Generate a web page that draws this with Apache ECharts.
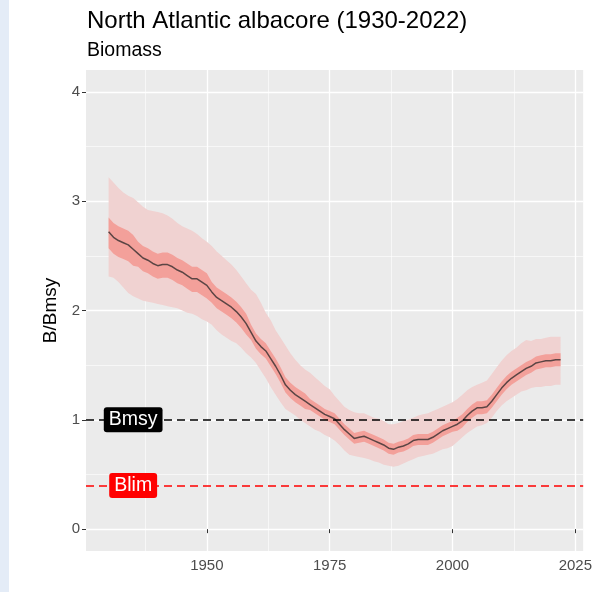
<!DOCTYPE html>
<html>
<head>
<meta charset="utf-8">
<script src="https://cdn.jsdelivr.net/npm/echarts@6/dist/echarts.min.js"></script>
<style>
  html, body { margin: 0; padding: 0; background: #ffffff; }
  #chart { width: 595px; height: 592px; }
</style>
</head>
<body>
<div id="chart"></div>
<script>
// Stock status of North Atlantic albacore: B/Bmsy by year
const firstYear = 1930;
const lastYear = 2022;

// median trajectory
const median = [
  2.72, 2.67, 2.64, 2.62, 2.60, 2.56, 2.52, 2.48, 2.46, 2.43,
  2.41, 2.42, 2.42, 2.40, 2.37, 2.35, 2.32, 2.29, 2.29, 2.26,
  2.23, 2.17, 2.12, 2.09, 2.06, 2.03, 1.99, 1.94, 1.88, 1.80,
  1.72, 1.67, 1.63, 1.56, 1.49, 1.41, 1.32, 1.27, 1.23, 1.20,
  1.17, 1.14, 1.11, 1.08, 1.05, 1.03, 1.01, 0.96, 0.91, 0.87,
  0.83, 0.84, 0.85, 0.83, 0.81, 0.79, 0.77, 0.74, 0.73, 0.75,
  0.76, 0.78, 0.81, 0.82, 0.82, 0.82, 0.84, 0.87, 0.90, 0.92,
  0.94, 0.96, 0.99, 1.04, 1.08, 1.11, 1.11, 1.12, 1.17, 1.23,
  1.29, 1.34, 1.38, 1.41, 1.44, 1.47, 1.49, 1.52, 1.53, 1.54,
  1.54, 1.55, 1.55
];

// inner interval
const innerHi = [
  2.85, 2.80, 2.77, 2.75, 2.73, 2.69, 2.63, 2.59, 2.57, 2.54,
  2.52, 2.53, 2.53, 2.51, 2.48, 2.46, 2.43, 2.40, 2.40, 2.37,
  2.34, 2.26, 2.21, 2.18, 2.15, 2.12, 2.08, 2.03, 1.97, 1.87,
  1.79, 1.74, 1.70, 1.63, 1.56, 1.48, 1.39, 1.34, 1.30, 1.27,
  1.24, 1.19, 1.16, 1.13, 1.10, 1.08, 1.06, 1.01, 0.96, 0.92,
  0.88, 0.89, 0.90, 0.88, 0.86, 0.84, 0.82, 0.79, 0.78, 0.80,
  0.81, 0.83, 0.86, 0.87, 0.87, 0.87, 0.89, 0.92, 0.95, 0.97,
  0.99, 1.02, 1.05, 1.10, 1.14, 1.17, 1.17, 1.18, 1.23, 1.29,
  1.35, 1.40, 1.44, 1.47, 1.50, 1.53, 1.55, 1.58, 1.59, 1.60,
  1.60, 1.61, 1.61
];
const innerLo = [
  2.57, 2.52, 2.49, 2.47, 2.45, 2.41, 2.40, 2.36, 2.34, 2.31,
  2.29, 2.30, 2.30, 2.28, 2.25, 2.23, 2.20, 2.17, 2.17, 2.14,
  2.11, 2.07, 2.02, 1.99, 1.96, 1.93, 1.89, 1.84, 1.78, 1.73,
  1.65, 1.60, 1.56, 1.49, 1.42, 1.34, 1.25, 1.20, 1.16, 1.13,
  1.10, 1.09, 1.06, 1.03, 1.00, 0.98, 0.96, 0.91, 0.86, 0.82,
  0.78, 0.79, 0.80, 0.78, 0.76, 0.74, 0.72, 0.69, 0.68, 0.70,
  0.71, 0.73, 0.76, 0.77, 0.77, 0.77, 0.79, 0.82, 0.85, 0.87,
  0.89, 0.90, 0.93, 0.98, 1.02, 1.05, 1.05, 1.06, 1.11, 1.17,
  1.23, 1.28, 1.32, 1.35, 1.38, 1.41, 1.43, 1.46, 1.47, 1.48,
  1.48, 1.49, 1.49
];

// outer interval
const outerHi = [
  3.22, 3.17, 3.12, 3.08, 3.05, 3.03, 2.99, 2.95, 2.92, 2.91,
  2.90, 2.89, 2.87, 2.84, 2.80, 2.77, 2.75, 2.73, 2.70, 2.66,
  2.63, 2.59, 2.54, 2.50, 2.46, 2.42, 2.37, 2.31, 2.25, 2.19,
  2.15, 2.07, 1.98, 1.91, 1.82, 1.75, 1.68, 1.61, 1.55, 1.50,
  1.46, 1.43, 1.39, 1.35, 1.31, 1.28, 1.22, 1.17, 1.12, 1.09,
  1.07, 1.06, 1.06, 1.04, 1.02, 1.01, 0.99, 0.96, 0.96, 0.97,
  0.99, 1.00, 1.02, 1.04, 1.05, 1.06, 1.08, 1.10, 1.12, 1.14,
  1.16, 1.19, 1.23, 1.27, 1.30, 1.32, 1.34, 1.36, 1.42, 1.48,
  1.54, 1.59, 1.63, 1.66, 1.70, 1.73, 1.72, 1.74, 1.74, 1.75,
  1.76, 1.76, 1.76
];
const outerLo = [
  2.31, 2.30, 2.26, 2.21, 2.16, 2.13, 2.11, 2.09, 2.08, 2.07,
  2.06, 2.05, 2.04, 2.03, 2.02, 2.00, 1.98, 1.97, 1.95, 1.92,
  1.90, 1.87, 1.82, 1.78, 1.75, 1.72, 1.70, 1.66, 1.61, 1.57,
  1.52, 1.45, 1.38, 1.30, 1.23, 1.16, 1.10, 1.07, 1.04, 1.00,
  0.97, 0.94, 0.91, 0.89, 0.86, 0.84, 0.81, 0.77, 0.72, 0.68,
  0.67, 0.66, 0.65, 0.64, 0.62, 0.61, 0.59, 0.58, 0.57, 0.58,
  0.60, 0.62, 0.64, 0.66, 0.67, 0.68, 0.69, 0.71, 0.73, 0.74,
  0.76, 0.80, 0.84, 0.88, 0.91, 0.94, 0.95, 0.97, 1.02, 1.08,
  1.13, 1.17, 1.20, 1.23, 1.26, 1.27, 1.29, 1.30, 1.30, 1.31,
  1.31, 1.32, 1.32
];

// reference points
const refNames = ['Bmsy', 'Blim'];
const refValues = [1, 0.4];
const refColors = ['#000000', '#ff0000'];
const refLabelYear = 1935;

// axis ticks
const xMajorTicks = [1950, 1975, 2000, 2025];
const xMinorTicks = [1937.5, 1962.5, 1987.5, 2012.5];
const yMajorTicks = [0, 1, 2, 3, 4];
const yMinorTicks = [0.5, 1.5, 2.5, 3.5];

const years = [];
for (let y = firstYear; y <= lastYear; y++) years.push(y);

const FONT = '"Liberation Sans", Arial, sans-serif';
const xMin = 1925.4, xMax = 2026.6;
const yMin = -0.2, yMax = 4.2;

function band(lo, hi, color, z) {
  return {
    type: 'custom',
    z: z,
    silent: true,
    data: years.map((y, i) => [y, lo[i], hi[i]]),
    encode: { x: 0, y: [1, 2] },
    renderItem: function (params, api) {
      if (params.dataIndex !== 0) return null;
      const pts = [];
      for (let i = 0; i < years.length; i++) pts.push(api.coord([years[i], hi[i]]));
      for (let i = years.length - 1; i >= 0; i--) pts.push(api.coord([years[i], lo[i]]));
      return { type: 'polygon', shape: { points: pts }, style: { fill: color } };
    }
  };
}

const chart = echarts.init(document.getElementById('chart'), null, { renderer: 'canvas' });

chart.setOption({
  animation: false,
  backgroundColor: '#ffffff',
  textStyle: { fontFamily: FONT },
  graphic: [
    { type: 'rect', left: 0, top: 0, shape: { width: 9, height: 592 }, style: { fill: '#E4ECF7' }, silent: true }
  ],
  title: {
    text: 'North Atlantic albacore (1930-2022)',
    subtext: 'Biomass',
    left: 82,
    top: 4,
    itemGap: 8,
    textStyle: { fontFamily: FONT, fontSize: 24, fontWeight: 'normal', color: '#000000' },
    subtextStyle: { fontFamily: FONT, fontSize: 19.5, color: '#000000' }
  },
  grid: {
    left: 86, right: 4, top: 70, bottom: 41,
    show: true, backgroundColor: '#EBEBEB', borderWidth: 0
  },
  xAxis: [
    {
      type: 'value', min: xMin, max: xMax,
      axisLine: { show: false },
      axisTick: { show: true, customValues: xMajorTicks, length: 4, lineStyle: { color: '#333333', width: 1 } },
      axisLabel: {
        customValues: xMajorTicks, color: '#4D4D4D', fontSize: 15, margin: 7, fontFamily: FONT,
        formatter: v => String(v)
      },
      splitLine: { show: true, lineStyle: { color: '#ffffff', width: 1.3 } }
    },
    {
      type: 'value', min: xMin, max: xMax, position: 'bottom',
      axisLine: { show: false },
      axisTick: { show: false, customValues: xMinorTicks },
      axisLabel: { show: false },
      splitLine: { show: true, lineStyle: { color: '#ffffff', width: 0.6 } }
    }
  ],
  yAxis: [
    {
      type: 'value', min: yMin, max: yMax,
      name: 'B/Bmsy', nameLocation: 'middle', nameGap: 25, nameRotate: 90,
      nameTextStyle: { color: '#000000', fontSize: 19, fontFamily: FONT },
      axisLine: { show: false },
      axisTick: { show: true, customValues: yMajorTicks, length: 4, lineStyle: { color: '#333333', width: 1 } },
      axisLabel: {
        customValues: yMajorTicks, color: '#4D4D4D', fontSize: 15, margin: 6, fontFamily: FONT,
        formatter: v => String(v)
      },
      splitLine: { show: true, lineStyle: { color: '#ffffff', width: 1.3 } }
    },
    {
      type: 'value', min: yMin, max: yMax, position: 'left',
      axisLine: { show: false },
      axisTick: { show: false, customValues: yMinorTicks },
      axisLabel: { show: false },
      splitLine: { show: true, lineStyle: { color: '#ffffff', width: 0.6 } }
    }
  ],
  series: [
    band(outerLo, outerHi, '#F0D2D1', 2),
    band(innerLo, innerHi, '#F3A09A', 3),
    {
      type: 'line',
      z: 4,
      silent: true,
      showSymbol: false,
      data: years.map((y, i) => [y, median[i]]),
      lineStyle: { color: '#4a3b3b', width: 1.5, opacity: 0.9 }
    },
    {
      type: 'scatter',
      z: 6,
      silent: true,
      symbolSize: 0,
      itemStyle: { color: '#000000', opacity: 1 },
      data: refNames.map((n, i) => ({
        name: n,
        value: [refLabelYear, refValues[i]],
        label: { backgroundColor: refColors[i] }
      })),
      label: {
        show: true, position: 'inside', formatter: '{b}', opacity: 1,
        color: '#ffffff', fontSize: 19.5, fontFamily: FONT,
        padding: [3, 5, 2, 5], borderRadius: 3
      },
      markLine: {
        silent: true, symbol: 'none', label: { show: false },
        z: 5,
        data: refNames.map((n, i) => ({
          yAxis: refValues[i],
          lineStyle: { color: refColors[i], type: [8, 5], width: 1.5, opacity: 1 }
        }))
      }
    }
  ]
});
</script>
</body>
</html>
